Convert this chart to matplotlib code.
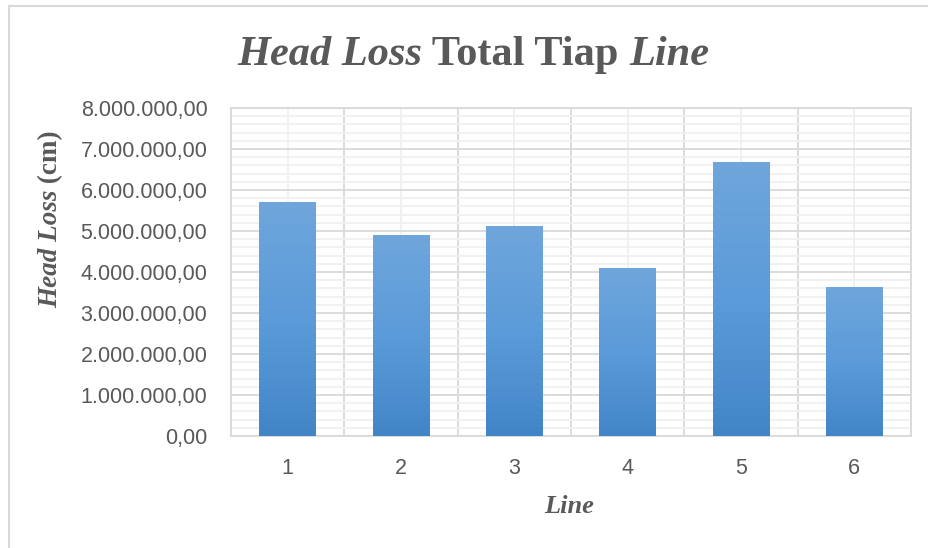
import numpy as np
import matplotlib.pyplot as plt
from matplotlib.lines import Line2D
from matplotlib.ticker import MultipleLocator, FuncFormatter
import matplotlib.patheffects as pe

# Head loss per line (cm)
lines = ['1', '2', '3', '4', '5', '6']
head_loss = [5710000, 4900000, 5120000, 4100000, 6680000, 3630000]

TEXT = '#595959'
SERIF = 'Liberation Serif'
SANS = 'Liberation Sans'

W, H = 929, 548
fig = plt.figure(figsize=(W / 100, H / 100), dpi=100)
ax = fig.add_axes([231 / W, 1 - 436 / H, 680 / W, 328 / H])

x = np.arange(len(lines))

# gridlines: major at each million, minor every 200k, verticals between/at categories
ax.yaxis.set_major_locator(MultipleLocator(1000000))
ax.yaxis.set_minor_locator(MultipleLocator(200000))
ax.set_xticks(x)
ax.set_xticks(np.arange(-0.5, len(lines)), minor=True)
ax.grid(which='major', axis='y', color='#d9d9d9', lw=1.3)
ax.grid(which='minor', axis='y', color='#f0f0f0', lw=1.3)
ax.grid(which='minor', axis='x', color='#d9d9d9', lw=1.3)
ax.grid(which='major', axis='x', color='#f0f0f0', lw=1.3)
ax.set_axisbelow(True)
for s in ax.spines.values():
    s.set_color('#d9d9d9')
    s.set_linewidth(1.3)

fmt = lambda v, p: f'{v:,.2f}'.replace(',', ' ').replace('.', ',').replace(' ', '.')
ax.yaxis.set_major_formatter(FuncFormatter(fmt))
ax.set_xticklabels(lines)
ax.tick_params(which='both', length=0)
ax.tick_params(axis='y', pad=17, labelsize=15.5, labelcolor=TEXT)
ax.tick_params(axis='x', pad=16, labelsize=15.5, labelcolor=TEXT)
for lab in ax.get_xticklabels() + ax.get_yticklabels():
    lab.set_fontfamily(SANS)

# bars with vertical gradient and soft shadow
grad = np.linspace(0, 1, 256).reshape(-1, 1)
cmap = plt.matplotlib.colors.LinearSegmentedColormap.from_list('bar', ['#4285c7', '#5b9bd9', '#6fa6dc'])
bars = ax.bar(x, head_loss, width=0.5, color='none', edgecolor='none', zorder=3)
for b in bars:
    bx, by, bw, bh = b.get_x(), b.get_y(), b.get_width(), b.get_height()
    shadow = plt.Rectangle((bx, by), bw, bh, facecolor='#9a9a9a', edgecolor='none', zorder=2)
    shadow.set_path_effects([pe.SimplePatchShadow(offset=(0, -2), shadow_rgbFace='#808080', alpha=0.35)])
    ax.add_patch(shadow)
    im = ax.imshow(grad, extent=(bx, bx + bw, by, by + bh), origin='lower', cmap=cmap,
                   aspect='auto', zorder=4, interpolation='bilinear')
    im.set_clip_path(b)
ax.set_xlim(-0.5, len(lines) - 0.5)
ax.set_ylim(0, 8000000)

# outer chart border (top and left)
fig.add_artist(Line2D([9 / W, 927 / W], [1 - 6 / H, 1 - 6 / H], color='#d9d9d9', lw=1.5))
fig.add_artist(Line2D([9 / W, 9 / W], [1 - 6 / H, 0], color='#d9d9d9', lw=1.5))


def rich_text(parts, cx, cy, size, rotation=0):
    """Place mixed-style text pieces centred on (cx, cy) in pixels."""
    r = fig.canvas.get_renderer()
    objs = []
    for s, style in parts:
        t = fig.text(0, 0, s, fontsize=size, family=SERIF, weight='bold', style=style,
                     color=TEXT, rotation=rotation, ha='left', va='baseline',
                     rotation_mode='anchor')
        objs.append(t)
    lens = []
    for t in objs:
        bb = t.get_window_extent(r)
        lens.append(bb.height if rotation else bb.width)
    pos = -sum(lens) / 2
    for t, L in zip(objs, lens):
        if rotation:
            t.set_position((cx / W, 1 - (cy - pos) / H))
        else:
            t.set_position(((cx + pos) / W, 1 - cy / H))
        pos += L


rich_text([('Head Loss', 'italic'), (' Total Tiap ', 'normal'), ('Line', 'italic')], 473, 65, 30.5)
rich_text([('Head Loss', 'italic'), (' (cm)', 'normal')], 57, 219, 19.5, rotation=90)
rich_text([('Line', 'italic')], 569, 513, 19)

fig.savefig('out.png', dpi=100)
